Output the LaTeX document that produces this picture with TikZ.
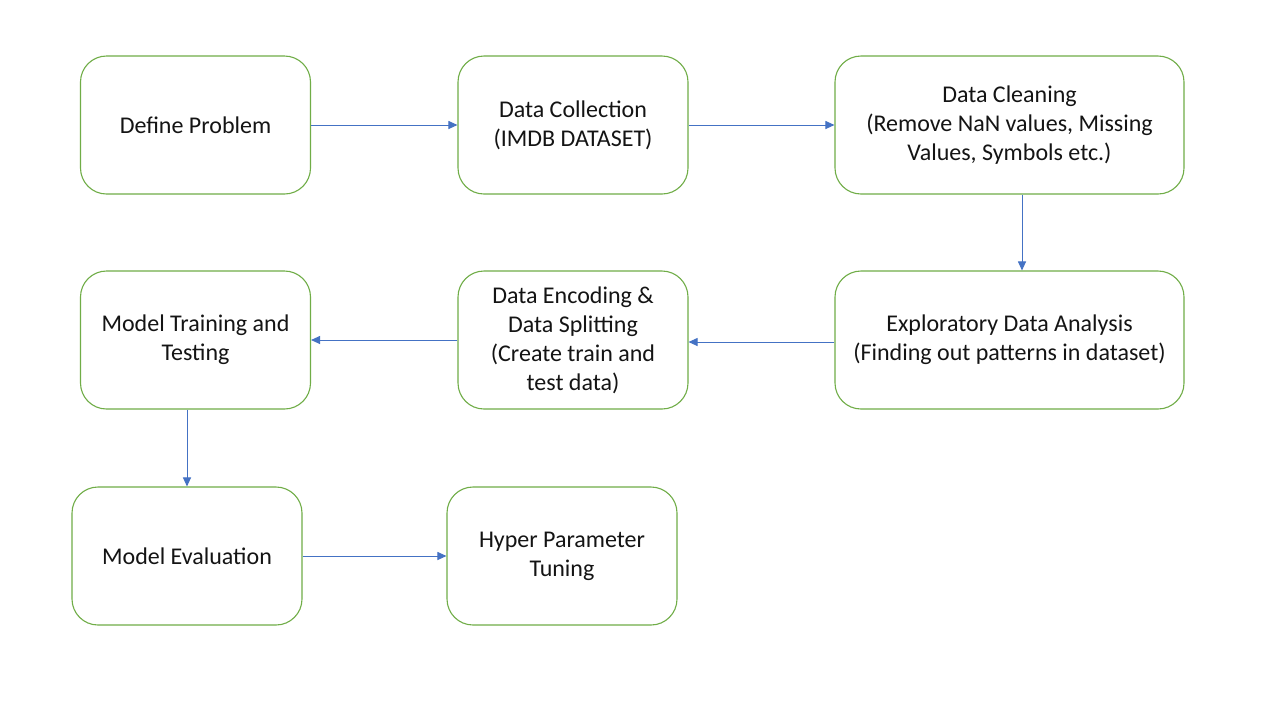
\documentclass[tikz,border=0pt]{standalone}
\usepackage{fontspec}
\setmainfont{Carlito}
\usetikzlibrary{arrows.meta,positioning}
\definecolor{boxgreen}{RGB}{112,173,71}
\definecolor{arrowblue}{RGB}{68,114,196}
\definecolor{txt}{RGB}{20,20,20}
\begin{document}
\begin{tikzpicture}[x=0.5pt,y=-0.5pt]
\tikzstyle{stagebox}=[draw=boxgreen,line width=0.55pt,rounded corners=13pt,align=center,
  minimum width=115pt,minimum height=69pt,inner sep=0pt,text=txt,font=\fontsize{12}{14.5}\selectfont]
\tikzstyle{widebox}=[stagebox,minimum width=174.5pt]
\tikzstyle{arrow}=[draw=arrowblue,line width=0.5pt,-{Triangle[length=4.5pt,width=4pt]}]
\useasboundingbox [fill=white] (0,0) rectangle (1280,720);
\node [stagebox] at (195.5,125) (define) {Define Problem};
\node [stagebox] at (573,125) (collect) {Data Collection\\(IMDB DATASET)};
\node [widebox] at (1009.5,125) (clean) {Data Cleaning\\(Remove NaN values, Missing\\Values, Symbols etc.)};
\node [widebox] at (1009.5,340) (eda) {Exploratory Data Analysis\\(Finding out patterns in dataset)};
\node [stagebox] at (573,340) (encode) {Data Encoding \&\\Data Splitting\\(Create train and\\test data)};
\node [stagebox] at (195.5,340) (train) {Model Training and\\Testing};
\node [stagebox] at (187,556) (eval) {Model Evaluation};
\node [stagebox] at (562,556) (tune) {Hyper Parameter\\Tuning};
\draw [arrow] (define) -- (collect);
\draw [arrow] (collect) -- (clean);
\draw [arrow] ([xshift=6.25pt]clean.south) -- ([xshift=6.25pt]eda.north);
\draw [arrow] ([yshift=-1pt]eda.west) -- ([yshift=-1pt]encode.east);
\draw [arrow] (encode) -- (train);
\draw [arrow] (train.south -| eval.north) -- (eval.north);
\draw [arrow] (eval) -- (tune);
\end{tikzpicture}
\end{document}
